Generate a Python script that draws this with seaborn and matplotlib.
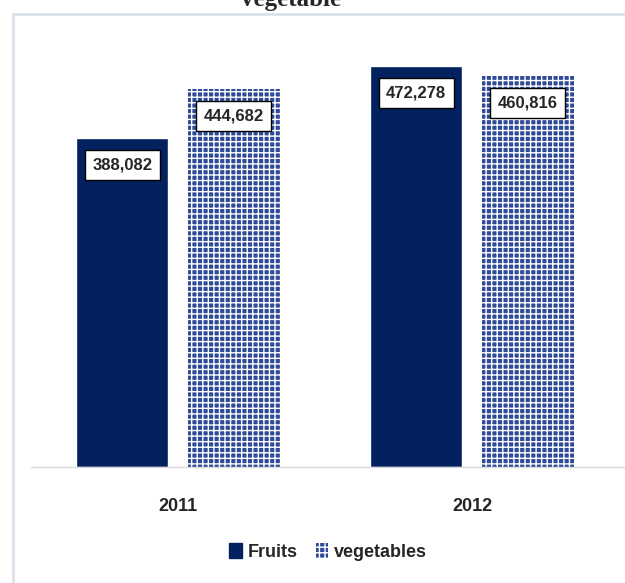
import matplotlib
matplotlib.use('Agg')
import matplotlib.pyplot as plt
import matplotlib.patches as mpatches
import pandas as pd
import seaborn as sns

years = ['2011', '2012']
series = ['Fruits', 'vegetables']
fruits = [388082, 472278]
vegetables = [444682, 460816]

NAVY = '#03205f'
VEG = '#2f4b98'

df = pd.DataFrame({
    'year': years * 2,
    'value': fruits + vegetables,
    'kind': [series[0]] * 2 + [series[1]] * 2,
})

sns.set_style('white')
plt.rcParams['font.family'] = ['Liberation Sans Narrow', 'Liberation Sans', 'DejaVu Sans']
plt.rcParams['hatch.linewidth'] = 1.0

fig = plt.figure(figsize=(6.25, 5.83), dpi=100)
ax = fig.add_axes([31 / 625, 116 / 583, 1 - 31 / 625, 447 / 583])

sns.barplot(data=df, x='year', y='value', hue='kind', hue_order=series,
            palette={'Fruits': NAVY, 'vegetables': VEG},
            width=0.76, gap=0.18, ax=ax, legend=False, saturation=1)

# textured look for vegetables
for bar in ax.containers[1]:
    bar.set_hatch('+++')
    bar.set_edgecolor('white')
    bar.set_linewidth(0)

ax.set_ylim(0, 526500)
ax.set_xlim(-0.5, 1.52)
ax.set_xlabel('')
ax.set_ylabel('')
ax.set_yticks([])
for s in ['left', 'top', 'right']:
    ax.spines[s].set_visible(False)
ax.spines['bottom'].set_color('#d9d9d9')
ax.spines['bottom'].set_linewidth(1)
ax.tick_params(axis='x', length=0, pad=22, labelsize=13)
for t in ax.get_xticklabels():
    t.set_fontweight('bold')

# value labels in white boxes
for cont in ax.containers:
    for bar in cont:
        h = bar.get_height()
        ax.annotate(f'{h:,.0f}', (bar.get_x() + bar.get_width() / 2, h),
                    xytext=(0, -27), textcoords='offset pixels',
                    ha='center', va='center', fontsize=12, fontweight='bold',
                    bbox=dict(boxstyle='square,pad=0.45', fc='white', ec='black', lw=1))

handles = [mpatches.Patch(facecolor=NAVY, edgecolor=NAVY),
           mpatches.Patch(facecolor=VEG, edgecolor='white', hatch='+++', linewidth=0)]
ax.legend(handles, series, loc='center', bbox_to_anchor=(328 / 625, 1 - 552 / 583),
          bbox_transform=fig.transFigure, ncol=2, frameon=False,
          handlelength=0.7, handleheight=0.9, columnspacing=1.0, handletextpad=0.3,
          prop={'weight': 'bold', 'size': 13})

# chart frame, cut off at the right and bottom
fig.add_artist(mpatches.Rectangle((13 / 625, -0.1), 1.2, (583 - 14) / 583 + 0.1,
                                  transform=fig.transFigure, fill=False,
                                  edgecolor='#dde1ea', linewidth=2))

# title, mostly cropped out at the top (as in the source image)
fig.text(291 / 625, 1 - 6 / 583, 'vegetable', family='Liberation Serif',
         fontweight='bold', fontsize=18, ha='center', va='baseline')

fig.savefig('out.png', dpi=100)
